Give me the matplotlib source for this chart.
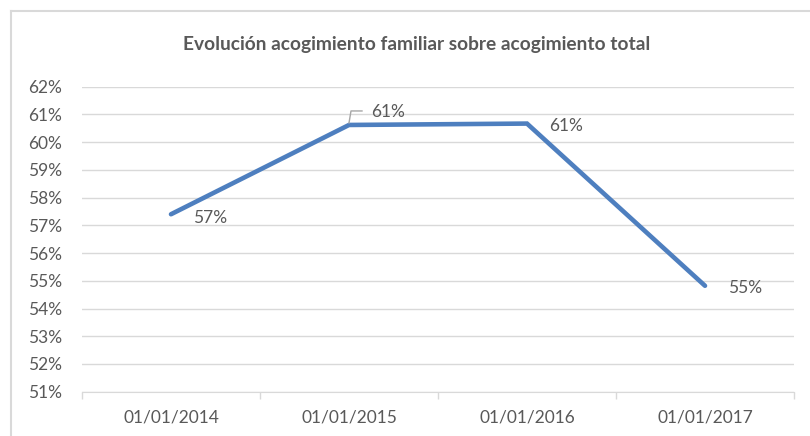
import matplotlib
matplotlib.use("Agg")
import matplotlib.pyplot as plt
from matplotlib.lines import Line2D
import numpy as np

plt.rcParams['font.family'] = ['Lato', 'DejaVu Sans']

categories = ["01/01/2014", "01/01/2015", "01/01/2016", "01/01/2017"]
values = [57.4, 60.62, 60.67, 54.82]
labels = ["57%", "61%", "61%", "55%"]
yticks = list(range(51, 63))

W, H = 810, 436
fig = plt.figure(figsize=(W / 100, H / 100), dpi=100)
ax = fig.add_axes([82 / W, 1 - 391.7 / H, (794 - 82) / W, (391.7 - 86.7) / H])

x = np.arange(len(categories))
ax.plot(x, values, color="#4E7FBF", lw=3.3, solid_capstyle="round", solid_joinstyle="miter", zorder=3)

ax.set_xlim(-0.5, len(categories) - 0.5)
ax.set_ylim(51, 62)
ax.set_yticks(yticks)
ax.set_yticklabels([f"{v}%" for v in yticks], color="#595959", fontsize=12.5)
ax.set_xticks(x)
ax.set_xticklabels(categories, color="#595959", fontsize=12.5)
ax.tick_params(axis="y", length=0, pad=14.5)
ax.tick_params(axis="x", length=0, pad=13)
ax.set_xticks(np.arange(-0.5, len(categories), 1.0), minor=True)
ax.tick_params(axis="x", which="minor", length=5, color="#D9D9D9", width=1)

ax.grid(axis="y", color="#D9D9D9", lw=1)
ax.set_axisbelow(True)
for s in ["top", "right", "left"]:
    ax.spines[s].set_visible(False)
ax.spines["bottom"].set_color("#D9D9D9")
ax.spines["bottom"].set_zorder(2)

# data labels (offsets in points)
offsets = [(16, -2.5), (16, 9.5), (16, -1.5), (16.5, -1.5)]
for i, (v, lab) in enumerate(zip(values, labels)):
    dx, dy = offsets[i]
    ax.annotate(lab, (x[i], v), xytext=(dx, dy), textcoords="offset points",
                ha="left", va="center", fontsize=12.5, color="#595959")

# leader line for second label (pixel offsets)
p = ax.transData.transform((x[1], values[1]))
pts = [(p[0], p[1] + 2), (p[0] + 2, p[1] + 14), (p[0] + 13, p[1] + 14)]
inv = fig.transFigure.inverted()
fp = inv.transform(pts)
fig.add_artist(Line2D(fp[:, 0], fp[:, 1], color="#A6A6A6", lw=1))

fig.text(417 / W, 1 - 44 / H, "Evolución acogimiento familiar sobre acogimiento total",
         ha="center", va="center", fontsize=13.8, fontweight="bold", color="#595959")

# chart border
fig.add_artist(Line2D([11 / W, 11 / W], [0, 1 - 11 / H], color="#D9D9D9", lw=1.5))
fig.add_artist(Line2D([11 / W, 1], [1 - 11 / H, 1 - 11 / H], color="#D9D9D9", lw=1.5))

fig.savefig("out.png", dpi=100)
